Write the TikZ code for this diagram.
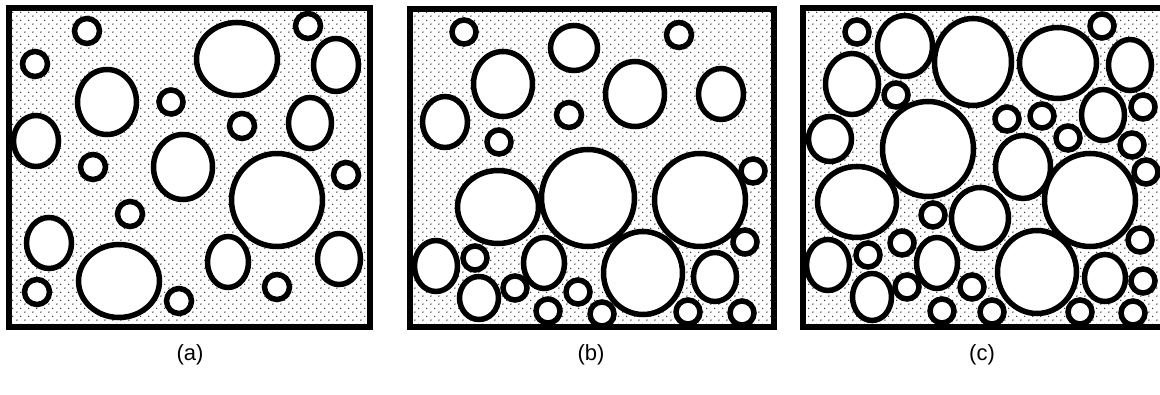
\documentclass[tikz,border=0pt]{standalone}
\usepackage{fontspec}
\setmainfont{Liberation Sans}
\usetikzlibrary{patterns}

\pgfdeclarepatternformonly{stipple}{\pgfqpoint{0pt}{0pt}}{\pgfqpoint{8.3pt}{8.3pt}}{\pgfqpoint{8.3pt}{8.3pt}}{%
  \pgfpathcircle{\pgfqpoint{1pt}{1pt}}{0.75pt}%
  \pgfpathcircle{\pgfqpoint{5.15pt}{5.15pt}}{0.75pt}%
  \pgfusepath{fill}}

\begin{document}
\begin{tikzpicture}[x=1pt,y=-1pt, dotted bg/.style={pattern=stipple}, frame/.style={line width=5.5pt}, grain/.style={line width=5.5pt,fill=white}, lbl/.style={font=\fontsize{22}{26}\selectfont}]
\useasboundingbox (0,0) rectangle (1160,395);

% panel (a)
\fill[dotted bg] (9,8) rectangle (370,327);
\foreach \x/\y/\a/\b in {87/31/12.5/12.5, 35/64/12.5/12.5, 237/59/40.5/36.5, 308/26/12.5/12.5, 336/65/22.5/26.5,
  107/102/29.5/32.5, 171/102/12/12, 36/141/22.5/25.5, 242/126/12.5/12.5, 310/123/21.5/25.5,
  93/167/12.5/12.5, 183/167/29.5/32.5, 277/200/45.5/46.5, 346/175/12.5/12.5, 130/214/12.5/12.5,
  49/243/22.5/25.5, 119/281/40.5/36.5, 37/292/12.5/12.5, 179/301/12.5/12.5, 228/262/20.5/25.5,
  277/287/12.5/12.5, 339/259/21.5/25.5}
  \draw[grain] (\x,\y) ellipse [x radius=\a, y radius=\b];
\draw[frame] (9,8) rectangle (370,327);

% panel (b)
\fill[dotted bg] (410,9) rectangle (774,327);
\foreach \x/\y/\a/\b in {464/32/12/12, 574/48/23.5/22.5, 679/35/12.5/12.5, 503/84/29.5/32.5, 635/94/29.5/32.5,
  721/94/22.5/25.5, 445/122/22.5/25.5, 569/115/12.5/12.5, 499/142/12/12, 498/207/40.5/36.5,
  588/198/46.5/48.5, 700/200/45.5/46.5, 753/171/12/12, 436/266/21.5/25.5, 475/258/12/12,
  544/263/20.5/25.5, 643/273/39.5/41.5, 745/242/12/12, 479/298/19.5/21.5, 515/288/12/12,
  578/292/12/12, 548/311/12/12, 602/314/12/12, 715/277/21.5/24.5, 688/312/12/12, 742/313/12/12}
  \draw[grain] (\x,\y) ellipse [x radius=\a, y radius=\b];
\draw[frame] (410,9) rectangle (774,327);

% panel (c)
\fill[dotted bg] (803,8) rectangle (1166,327);
\foreach \x/\y/\a/\b in {857/32/12/12, 905/46/27.5/30.5, 973/62/38.5/43.5, 1058/63/38.5/35.5, 1102/26/12/12,
  1130/65/21.5/25.5, 852/84/26.5/30.5, 896/95/12/12, 928/149/45.5/47.5, 1007/119/12/12,
  1042/116/12/12, 1103/115/21.5/25.5, 1143/107/12/12, 830/139/21.5/22.5, 1068/138/12/12,
  1132/145/12/12, 1023/167/27.5/31.5, 1146/172/12/12, 857/202/39.5/35.5, 1090/200/45.5/46.5,
  933/215/12/12, 980/218/28.5/30.5, 828/265/21.5/25.5, 868/255/12/12, 902/243/12/12,
  937/263/20.5/25.5, 1037/272/39.5/41.5, 1140/240/12/12, 872/297/19.5/23.5, 907/287/12/12,
  972/287/12/12, 942/311/12/12, 992/312/12/12, 1105/278/20.5/23.5, 1143/281/12/12,
  1080/312/12/12, 1133/313/12/12}
  \draw[grain] (\x,\y) ellipse [x radius=\a, y radius=\b];
\draw[frame] (803,8) rectangle (1166,327);

\node[lbl] (capa) at (190,355) {(a)};
\node[lbl] (capb) at (591,355) {(b)};
\node[lbl] (capc) at (982,355) {(c)};
\end{tikzpicture}
\end{document}
